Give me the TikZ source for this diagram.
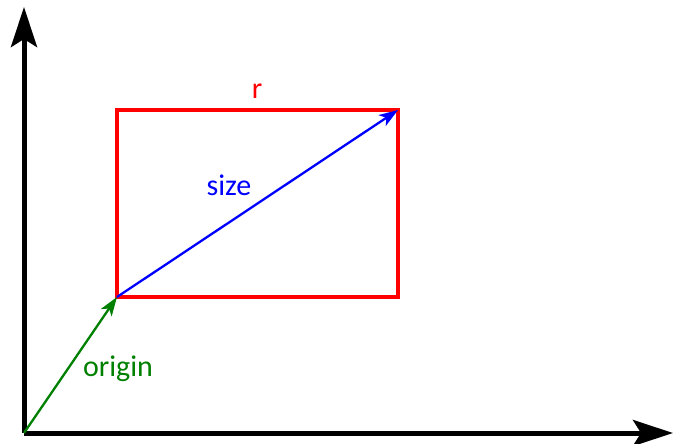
\documentclass[tikz,border=0pt]{standalone}
\usepackage{fontspec}
\setmainfont{Carlito}
\usetikzlibrary{arrows.meta}
\definecolor{pureRed}{RGB}{255,0,0}
\definecolor{pureBlue}{RGB}{0,0,255}
\definecolor{darkGreen}{RGB}{0,128,0}
\begin{document}
\begin{tikzpicture}[x=1pt, y=-1pt,
  every node/.append style={font=\fontsize{30}{36}\selectfont},
  axis/.style={line width=5pt, -{Stealth[length=40pt, width=26pt, inset=8pt]}},
  vec/.style={line width=2.3pt, -{Stealth[length=19pt, width=13pt, inset=5pt]}}]
  \useasboundingbox (0,0) rectangle (675,444);
  % ejes
  \coordinate (O) at (24,433);
  \coordinate (xend) at (673,433);
  \coordinate (yend) at (24,7);
  \draw[axis] (O) -- (xend);
  \draw[axis] (O) -- (yend);
  % rectangulo r
  \coordinate (bl) at (117,297);
  \coordinate (tr) at (398,110);
  \draw[pureRed, line width=3.5pt] (bl) rectangle (tr);
  \node[pureRed] (rlabel) at (257,91) {r};
  % vectores
  \draw[vec, pureBlue] (bl) -- (tr);
  \node[pureBlue] (sizelabel) at (229,185) {size};
  \draw[vec, darkGreen] (O) -- (bl);
  \node[darkGreen] (originlabel) at (118,369) {origin};
\end{tikzpicture}
\end{document}
